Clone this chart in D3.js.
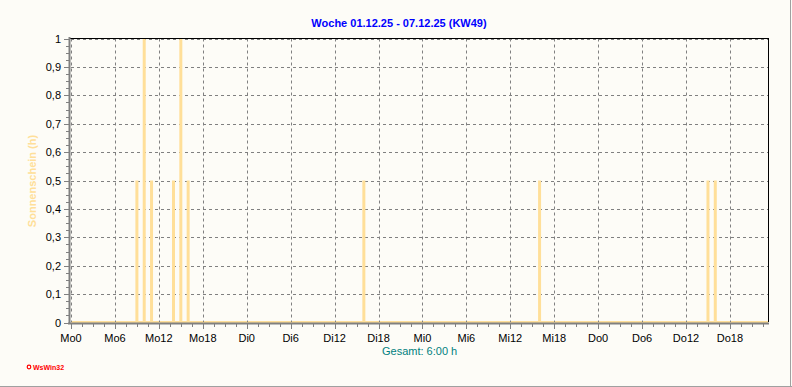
<!DOCTYPE html>
<html>
<head>
<meta charset="utf-8">
<style>
  body { margin: 0; background: #fdfcf7; }
  text { font-family: "Liberation Sans", Arial, sans-serif; }
</style>
</head>
<body>
<div id="chart"></div>
<script src="https://d3js.org/d3.v7.min.js"></script>
<script>
  // sunshine hours per hour, Mo0 .. Do23
  var mo = [0,0,0,0,0,0,0,0,0,0.5,1,0.5,0,0,0.5,1,0.5,0,0,0,0,0,0,0];
  var di = [0,0,0,0,0,0,0,0,0,0,0,0,0,0,0,0,0.5,0,0,0,0,0,0,0];
  var mi = [0,0,0,0,0,0,0,0,0,0,0,0,0,0,0,0,0.5,0,0,0,0,0,0,0];
  var don = [0,0,0,0,0,0,0,0,0,0,0,0,0,0,0,0.5,0.5,0,0,0,0,0,0,0];
  var values = mo.concat(di, mi, don);

  var xLabels = ["Mo0","Mo6","Mo12","Mo18","Di0","Di6","Di12","Di18","Mi0","Mi6","Mi12","Mi18","Do0","Do6","Do12","Do18"];
  var yTicks = [0,0.1,0.2,0.3,0.4,0.5,0.6,0.7,0.8,0.9,1];
  var yLabels = ["0","0,1","0,2","0,3","0,4","0,5","0,6","0,7","0,8","0,9","1"];

  var width = 792;
  var height = 387;
  var sun = "#ffdf99";
  var grid = "#808080";

  var svg = d3.select("#chart")
    .append("svg")
    .attr("width", width)
    .attr("height", height);

  svg.append("rect")
    .attr("x", 0).attr("y", 0)
    .attr("width", width).attr("height", height)
    .attr("fill", "#fdfcf7");
  // window frame
  svg.append("line").attr("x1", 0).attr("y1", 386.5).attr("x2", 792).attr("y2", 386.5)
    .attr("stroke", "#a0a0a0");
  svg.append("line").attr("x1", 790.5).attr("y1", 0).attr("x2", 790.5).attr("y2", 387)
    .attr("stroke", "#a0a0a0");

  var x = d3.scaleLinear().domain([0, 95.2]).range([71, 768]);
  var y = d3.scaleLinear().domain([0, 1]).range([322.5, 38.5]);

  // title
  svg.append("text")
    .attr("x", 399).attr("y", 27)
    .attr("text-anchor", "middle")
    .attr("font-size", "11px")
    .attr("font-weight", "bold")
    .attr("fill", "#0000ff")
    .text("Woche 01.12.25 - 07.12.25 (KW49)");

  // baseline of zero values
  svg.append("line")
    .attr("x1", x(0)).attr("x2", 768)
    .attr("y1", y(0) - 0.5).attr("y2", y(0) - 0.5)
    .attr("stroke", sun).attr("stroke-width", 2);

  // grid
  svg.selectAll(".hgrid")
    .data(yTicks)
    .enter().append("line")
    .attr("x1", 71).attr("x2", 768)
    .attr("y1", function(d) { return Math.round(y(d)) + 0.5; })
    .attr("y2", function(d) { return Math.round(y(d)) + 0.5; })
    .attr("stroke", grid)
    .attr("stroke-dasharray", "3,3");

  var vTicks = d3.range(0, 96, 6);
  svg.selectAll(".vgrid")
    .data(vTicks)
    .enter().append("line")
    .attr("x1", function(d) { return Math.round(x(d)) + 0.5; })
    .attr("x2", function(d) { return Math.round(x(d)) + 0.5; })
    .attr("y1", 38.5).attr("y2", 322)
    .attr("stroke", grid)
    .attr("stroke-dasharray", "3,3");

  // bars
  svg.selectAll(".bar")
    .data(values)
    .enter().append("rect")
    .attr("x", function(d, i) { return x(i) - 1.5; })
    .attr("width", 3)
    .attr("y", function(d) { return y(d); })
    .attr("height", function(d) { return y(0) - y(d); })
    .attr("fill", sun);

  // frame of plot
  svg.append("line").attr("x1", 70).attr("x2", 768.5).attr("y1", 38.5).attr("y2", 38.5)
    .attr("stroke", "black");
  svg.append("line").attr("x1", 768.5).attr("x2", 768.5).attr("y1", 38).attr("y2", 322)
    .attr("stroke", "black");

  // y axis
  svg.append("line").attr("x1", 69.5).attr("x2", 69.5).attr("y1", 37).attr("y2", 324)
    .attr("stroke", grid).attr("stroke-width", 2);
  svg.selectAll(".ymin")
    .data(d3.range(0, 41))
    .enter().append("line")
    .attr("x1", function(d) { return d % 4 == 0 ? 64 : 66; })
    .attr("x2", 69)
    .attr("y1", function(d) { return Math.round(y(d / 40)) + 0.5; })
    .attr("y2", function(d) { return Math.round(y(d / 40)) + 0.5; })
    .attr("stroke", grid);
  svg.selectAll(".ylab")
    .data(yTicks)
    .enter().append("text")
    .attr("x", 61)
    .attr("y", function(d) { return y(d) + 4; })
    .attr("text-anchor", "end")
    .attr("font-size", "11px")
    .attr("fill", "black")
    .text(function(d, i) { return yLabels[i]; });

  svg.append("text")
    .attr("transform", "translate(36,181) rotate(-90)")
    .attr("text-anchor", "middle")
    .attr("font-size", "11px")
    .attr("font-weight", "bold")
    .attr("fill", sun)
    .text("Sonnenschein  (h)");

  // x axis
  svg.append("line").attr("x1", 68).attr("x2", 769).attr("y1", 323.5).attr("y2", 323.5)
    .attr("stroke", grid).attr("stroke-width", 2);
  svg.selectAll(".xmin")
    .data(d3.range(0, 64))
    .enter().append("line")
    .attr("x1", function(d) { return Math.round(x(d * 1.5)) + 0.5; })
    .attr("x2", function(d) { return Math.round(x(d * 1.5)) + 0.5; })
    .attr("y1", 324)
    .attr("y2", function(d) { return d % 4 == 0 ? 329 : 327; })
    .attr("stroke", grid);
  svg.selectAll(".xlab")
    .data(xLabels)
    .enter().append("text")
    .attr("x", function(d, i) { return x(i * 6); })
    .attr("y", 342)
    .attr("text-anchor", "middle")
    .attr("font-size", "11px")
    .attr("fill", "black")
    .text(function(d) { return d; });

  svg.append("text")
    .attr("x", 382).attr("y", 355)
    .attr("font-size", "11px")
    .attr("fill", "#008080")
    .text("Gesamt: 6:00 h");

  // logo
  svg.append("circle").attr("cx", 29).attr("cy", 367).attr("r", 1.8)
    .attr("fill", "none").attr("stroke", "#ff0000").attr("stroke-width", 1.2);
  svg.append("text")
    .attr("x", 33).attr("y", 370)
    .attr("font-size", "7px")
    .attr("font-weight", "bold")
    .attr("fill", "#ff0000")
    .text("WsWin32");
</script>
</body>
</html>
